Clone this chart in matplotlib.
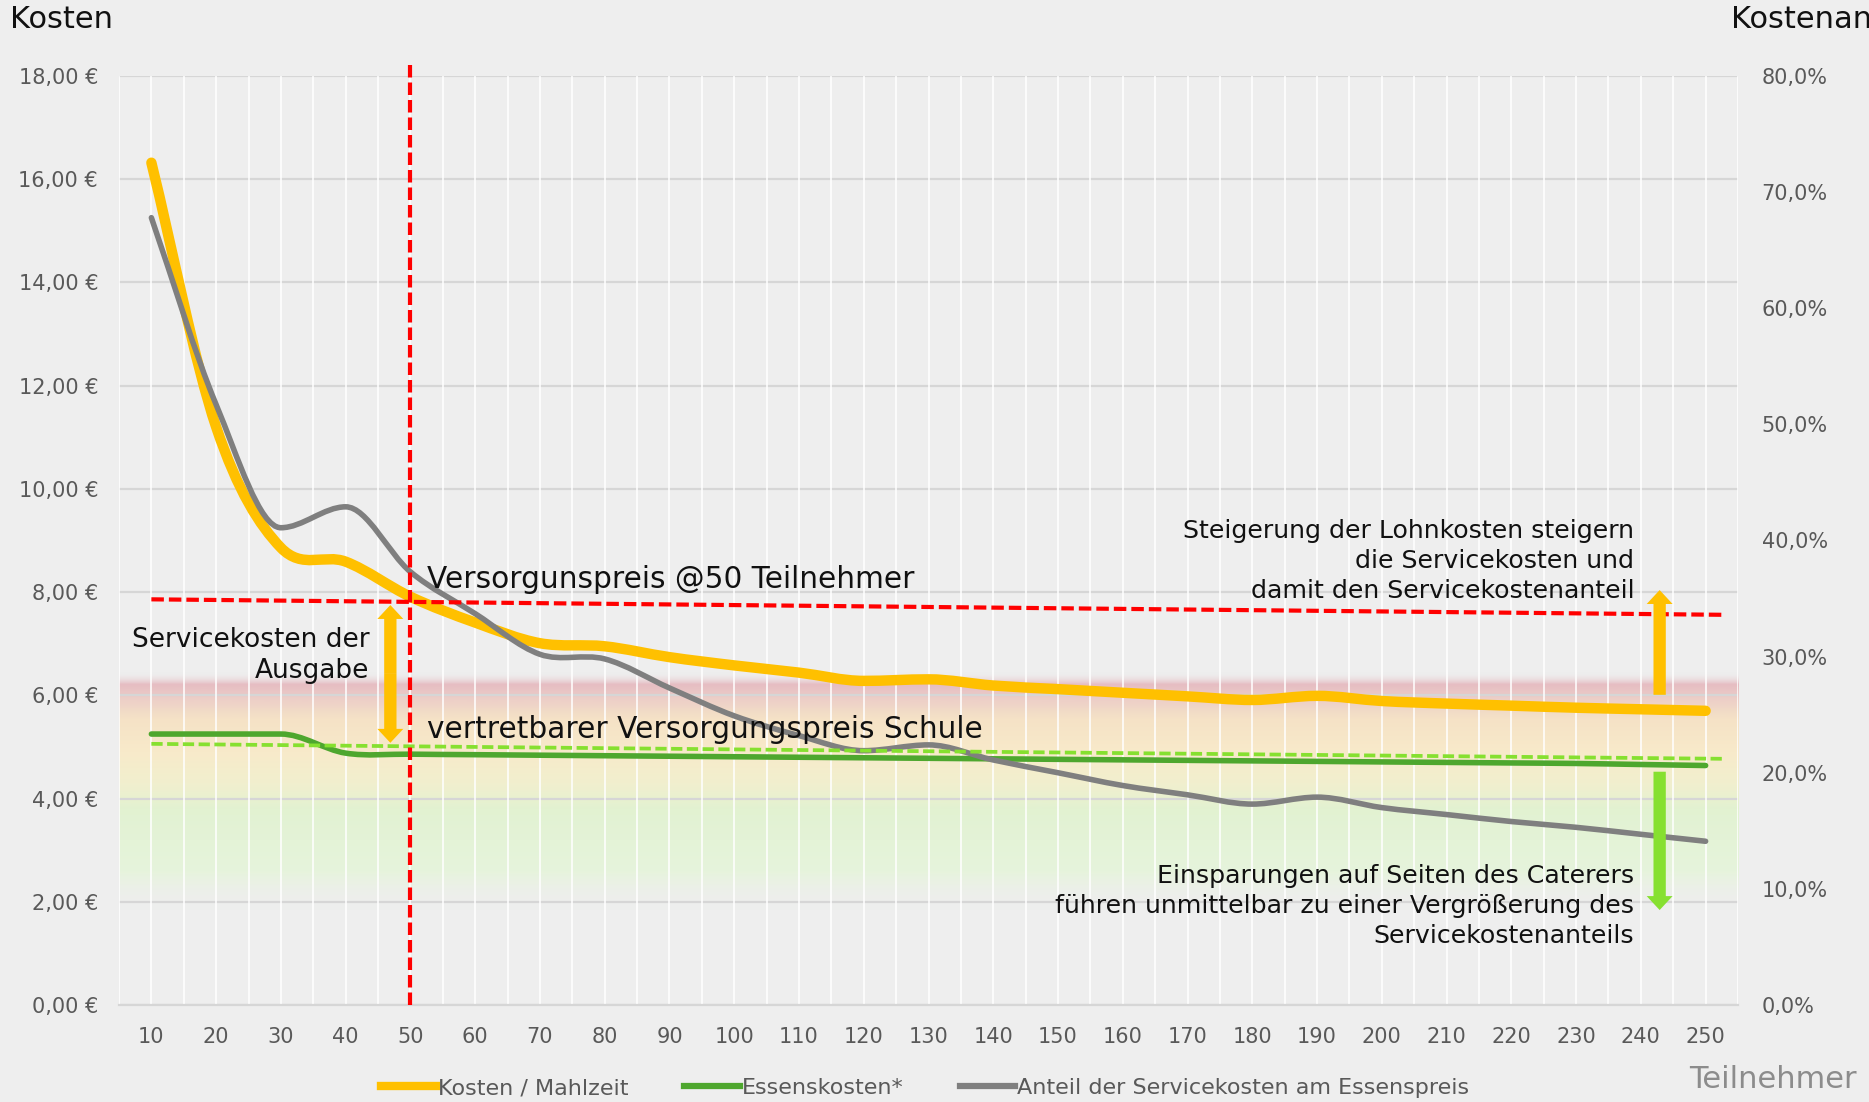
import numpy as np
import matplotlib
matplotlib.use("Agg")
import matplotlib.pyplot as plt
from matplotlib.path import Path
from matplotlib.patches import PathPatch, FancyArrow
from matplotlib.lines import Line2D
from matplotlib.ticker import FuncFormatter

plt.rcParams['font.family'] = ['DejaVu Sans']

# ---------------- data ----------------
teilnehmer = [10, 20, 30, 40, 50, 60, 70, 80, 90, 100, 110, 120, 130,
              140, 150, 160, 170, 180, 190, 200, 210, 220, 230, 240, 250]

# Kosten / Mahlzeit (EUR)
kosten_mahlzeit = [16.32, 11.2, 8.86, 8.59, 7.91, 7.41, 7.01, 6.95, 6.74, 6.58,
                   6.44, 6.28, 6.31, 6.19, 6.12, 6.05, 5.98, 5.91, 5.99, 5.89,
                   5.84, 5.80, 5.76, 5.73, 5.70]

# Essenskosten* (EUR)
essenskosten = [5.25, 5.25, 5.25, 4.88, 4.86, 4.85, 4.84, 4.83, 4.82, 4.81,
                4.80, 4.79, 4.78, 4.77, 4.76, 4.75, 4.74, 4.73, 4.72, 4.71,
                4.70, 4.69, 4.68, 4.66, 4.64]

# Anteil der Servicekosten am Essenspreis (right axis)
anteil_service = [0.678, 0.517, 0.411, 0.429, 0.373, 0.337, 0.302, 0.298, 0.273, 0.249,
                  0.232, 0.219, 0.224, 0.211, 0.200, 0.189, 0.181, 0.173, 0.179, 0.170,
                  0.164, 0.158, 0.153, 0.147, 0.141]

# annotation levels (EUR): start / end of the helper lines
preis_at_50 = [7.86, 7.56]
vertretbar = [5.06, 4.77]

YELLOW = "#FFC000"
GREEN = "#4EA72E"
LIME = "#86E030"
GRAY = "#7F7F7F"
RED = "#FF0000"
TXT = "#595959"


def smooth_path(x, y):
    # smoothed line like excel, drawn as cubic bezier through the points
    x = np.asarray(x, float)
    y = np.asarray(y, float)
    n = len(x)
    m = np.zeros(n)
    for i in range(n):
        lo, hi = max(i - 1, 0), min(i + 1, n - 1)
        m[i] = (y[hi] - y[lo]) / (x[hi] - x[lo])
        if 0 < i < n - 1:
            dl = y[i] - y[i - 1]
            dr = y[i + 1] - y[i]
            if dl * dr <= 0:
                m[i] = 0.0
    verts = [(x[0], y[0])]
    codes = [Path.MOVETO]
    for k in range(n - 1):
        h = x[k + 1] - x[k]
        verts += [(x[k] + h / 3, y[k] + m[k] * h / 3),
                  (x[k + 1] - h / 3, y[k + 1] - m[k + 1] * h / 3),
                  (x[k + 1], y[k + 1])]
        codes += [Path.CURVE4] * 3
    return Path(verts, codes)


fig = plt.figure(figsize=(18.69, 11.02), dpi=100, facecolor="#EEEEEE")
ax = fig.add_axes([119 / 1869, 1 - 1005 / 1102, (1738 - 119) / 1869, (1005 - 76) / 1102])
ax.set_facecolor("none")
ax2 = ax.twinx()

xs = np.arange(len(teilnehmer))
ax.set_xlim(-0.5, len(teilnehmer) - 0.5)
ax.set_ylim(0, 18)
ax2.set_ylim(0, 0.8)

# colour band (red - yellow - green)
stops = [(6.45, (238, 238, 238, 0)),
         (6.22, (230, 186, 192, 240)),
         (5.95, (236, 204, 198, 240)),
         (5.55, (246, 226, 196, 240)),
         (4.90, (249, 234, 200, 240)),
         (4.30, (242, 240, 204, 240)),
         (3.80, (226, 243, 208, 240)),
         (2.60, (230, 245, 218, 230)),
         (1.85, (238, 240, 236, 0))]
yy = np.linspace(1.85, 6.45, 300)
sv = [s[0] for s in stops][::-1]
band = np.zeros((300, 1, 4))
for c in range(4):
    band[:, 0, c] = np.interp(yy, sv, [s[1][c] for s in stops][::-1]) / 255
ax.imshow(band, extent=[-0.5, len(teilnehmer) - 0.5, 1.85, 6.45], origin="lower",
          aspect="auto", zorder=0.2, interpolation="bilinear")

# grid
ax.set_axisbelow(True)
ax.set_yticks(np.arange(0, 19, 2))
ax.grid(axis="y", color="#D6D6D6", lw=1.6)
ax.vlines(np.arange(-0.5, len(teilnehmer), 0.5), 0, 18, color="white", lw=1.4, alpha=0.8, zorder=0.6)
for s in ["top", "left", "right"]:
    ax.spines[s].set_visible(False)
    ax2.spines[s].set_visible(False)
ax.spines["bottom"].set_color("#D6D6D6")
ax.spines["bottom"].set_linewidth(1.6)
ax2.spines["bottom"].set_visible(False)

# series
ax.add_patch(PathPatch(smooth_path(xs, essenskosten), fill=False, ec=GREEN, lw=4,
                       capstyle="round", zorder=3))
ax.add_patch(PathPatch(smooth_path(xs, kosten_mahlzeit), fill=False, ec=YELLOW, lw=7.5,
                       capstyle="round", zorder=3.1))
ax.add_patch(PathPatch(smooth_path(xs, anteil_service), fill=False, ec=GRAY, lw=4,
                       capstyle="round", zorder=3.2, transform=ax2.transData))

# helper lines
ax.plot([0, 24.3], preis_at_50, color=RED, lw=3, ls=(0, (3, 1.2)), zorder=4)
ax.plot([0, 24.3], vertretbar, color=LIME, lw=2.7, ls=(0, (3, 1.2)), zorder=4)
ax.plot([4, 4], [0, 18.25], color=RED, lw=3, ls=(0, (3, 1.2)), zorder=4.1, clip_on=False)

# arrows
aw = dict(width=0.19, head_width=0.40, head_length=0.27, length_includes_head=True, lw=0, zorder=5)
mid = (5.08 + 7.75) / 2
ax.add_patch(FancyArrow(3.69, mid, 0, 7.75 - mid, color=YELLOW, **aw))
ax.add_patch(FancyArrow(3.69, mid, 0, 5.08 - mid, color=YELLOW, **aw))
ax.add_patch(FancyArrow(23.29, 6.01, 0, 8.04 - 6.01, color=YELLOW, **aw))
ax.add_patch(FancyArrow(23.29, 4.52, 0, 1.84 - 4.52, color=LIME, **aw))

# annotation texts
ax.text(4.25, 8.24, "Versorgunspreis @50 Teilnehmer", fontsize=21.3, va="center", ha="left", color="#111111", zorder=6)
ax.text(4.25, 5.33, "vertretbarer Versorgungspreis Schule", fontsize=21.3, va="center", ha="left", color="#111111", zorder=6)
ax.text(3.37, 6.77, "Servicekosten der\nAusgabe", fontsize=19, va="center", ha="right",
        multialignment="right", color="#111111", linespacing=1.22, zorder=6)
ax.text(22.9, 8.6, "Steigerung der Lohnkosten steigern\ndie Servicekosten und\ndamit den Servicekostenanteil",
        fontsize=18.2, va="center", ha="right", multialignment="right", color="#111111", linespacing=1.3, zorder=6)
ax.text(22.9, 1.92, "Einsparungen auf Seiten des Caterers\nführen unmittelbar zu einer Vergrößerung des\nServicekostenanteils",
        fontsize=18.2, va="center", ha="right", multialignment="right", color="#111111", linespacing=1.3, zorder=6)

# ticks
ax.set_xticks(xs)
ax.set_xticklabels([str(t) for t in teilnehmer])
ax.tick_params(axis="x", length=0, pad=16, labelsize=15, labelcolor=TXT)
ax.yaxis.set_major_formatter(FuncFormatter(lambda v, p: f"{v:.2f} €".replace(".", ",")))
ax.tick_params(axis="y", length=0, pad=15, labelsize=15, labelcolor=TXT)
ax2.set_yticks(np.arange(0, 0.81, 0.1))
ax2.yaxis.set_major_formatter(FuncFormatter(lambda v, p: f"{v * 100:.1f}%".replace(".", ",")))
ax2.tick_params(axis="y", length=0, pad=17, labelsize=15, labelcolor=TXT)

# axis titles
fig.text(10 / 1869, 1 - 20 / 1102, "Kosten", fontsize=22, va="center", ha="left", color="#111111")
fig.text(1731 / 1869, 1 - 20 / 1102, "Kostenanteil", fontsize=22, va="center", ha="left", color="#111111")
fig.text(1857 / 1869, 1 - 1080 / 1102, "Teilnehmer", fontsize=22, va="center", ha="right", color="#8C8C8C")

# legend
handles = [Line2D([], [], color=YELLOW, lw=6),
           Line2D([], [], color=GREEN, lw=4.5),
           Line2D([], [], color=GRAY, lw=4.5)]
labels = ["Kosten / Mahlzeit", "Essenskosten*", "Anteil der Servicekosten am Essenspreis"]
fig.legend(handles, labels, loc="center", bbox_to_anchor=(925 / 1869, 1 - 1088 / 1102), ncol=3,
           frameon=False, fontsize=16, labelcolor=TXT, handlelength=2.5, handletextpad=0.1,
           columnspacing=2.5)

fig.savefig("out.png", dpi=100, facecolor=fig.get_facecolor())
